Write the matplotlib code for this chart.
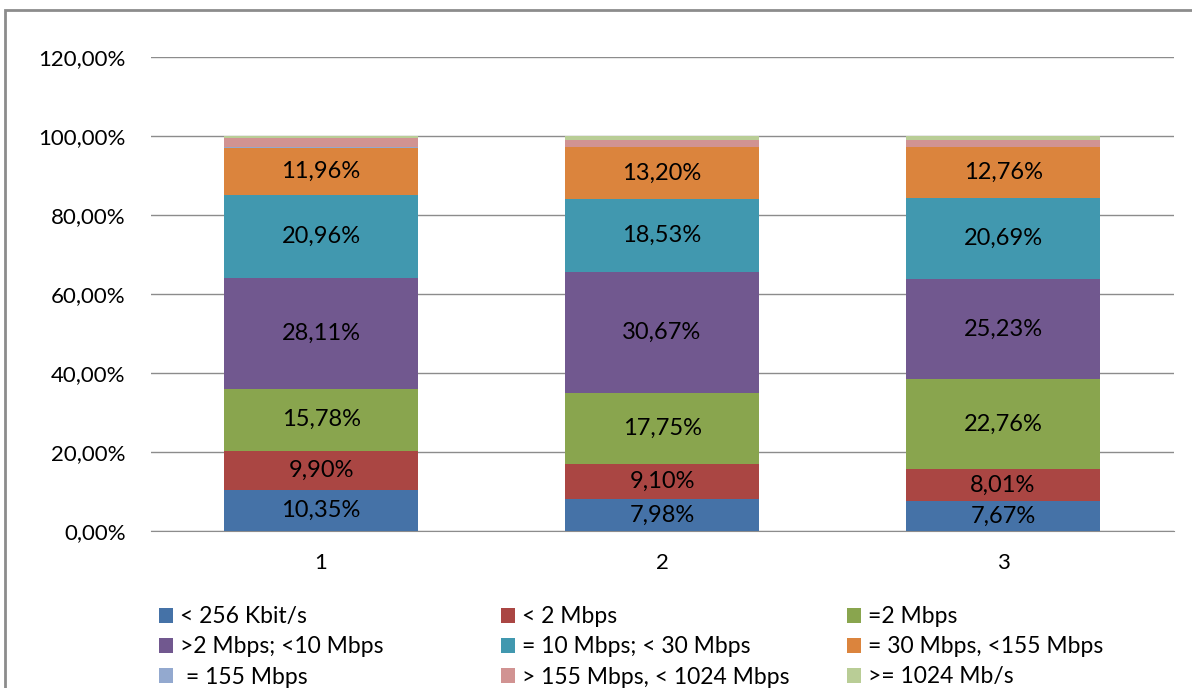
import numpy as np
import matplotlib.pyplot as plt
from matplotlib.patches import Rectangle
from matplotlib.ticker import FuncFormatter

plt.rcParams['font.family'] = ['Lato', 'DejaVu Sans']

# Data (shares, %)
categories = ["1", "2", "3"]
series_names = ["< 256 Kbit/s", "< 2 Mbps", "=2 Mbps",
                ">2 Mbps; <10 Mbps", "= 10 Mbps; < 30 Mbps", "= 30 Mbps, <155 Mbps",
                " = 155 Mbps", "> 155 Mbps, < 1024 Mbps", ">= 1024 Mb/s"]
s_256k = [10.35, 7.98, 7.67]
s_2m_lt = [9.90, 9.10, 8.01]
s_2m_eq = [15.78, 17.75, 22.76]
s_2_10 = [28.11, 30.67, 25.23]
s_10_30 = [20.96, 18.53, 20.69]
s_30_155 = [11.96, 13.20, 12.76]
s_155 = [0.04, 0.02, 0.03]
s_155_1024 = [2.30, 1.75, 1.75]
s_1024 = [0.60, 1.00, 1.10]
series = [s_256k, s_2m_lt, s_2m_eq, s_2_10, s_10_30, s_30_155, s_155, s_155_1024, s_1024]
labelled = 6  # first six series carry data labels

colors = ["#4572A7", "#AA4643", "#89A54E", "#71588F", "#4198AF",
          "#DB843D", "#93A9CF", "#D19392", "#B9CD96"]

fig = plt.figure(figsize=(11.92, 6.88), dpi=100)
ax = fig.add_axes([0.1263, 0.2282, 0.8582, 0.6890])

x = np.arange(len(categories))
bottom = np.zeros(len(categories))
handles = []
for i, (vals, name, c) in enumerate(zip(series, series_names, colors)):
    v = np.array(vals) / 100
    h = ax.bar(x, v, 0.57, bottom=bottom, color=c, label=name, zorder=3)
    handles.append(h)
    if i < labelled:
        for xi, (b, vi) in enumerate(zip(bottom, v)):
            ax.text(xi, b + vi / 2, f"{vals[xi]:.2f}%".replace(".", ","),
                    ha="center", va="center", fontsize=17, color="black", zorder=4)
    bottom += v

ax.set_xlim(-0.5, 2.5)
ax.set_ylim(0, 1.2)
ax.set_yticks(np.arange(0, 1.21, 0.2))
ax.yaxis.set_major_formatter(FuncFormatter(lambda v, p: f"{v*100:.2f}%".replace(".", ",")))
ax.set_xticks(x)
ax.set_xticklabels(categories)
ax.tick_params(axis="both", length=0, labelsize=16, pad=16)
ax.tick_params(axis="y", pad=18)
ax.grid(axis="y", color="#8c8c8c", linewidth=1, zorder=0)
for s in ["top", "right", "left"]:
    ax.spines[s].set_visible(False)
ax.spines["bottom"].set_color("#8c8c8c")

# chart frame
fig.patches.append(Rectangle((5 / 1192, -0.1), 1.2, 1 - 10 / 688 + 0.1,
                             transform=fig.transFigure, fill=False,
                             edgecolor="#8c8c8c", linewidth=2))

# legend: three columns, row-major order
col_x = [150 / 1192, 492 / 1192, 838 / 1192]
for col in range(3):
    idx = [col, col + 3, col + 6]
    fig.legend([handles[k] for k in idx], [series_names[k] for k in idx],
               loc="upper left", bbox_to_anchor=(col_x[col], 1 - 597 / 688),
               frameon=False, fontsize=16.5, handlelength=0.62, handleheight=0.62,
               handletextpad=0.3, labelspacing=0.4, borderaxespad=0)

fig.savefig("out.png", dpi=100)
